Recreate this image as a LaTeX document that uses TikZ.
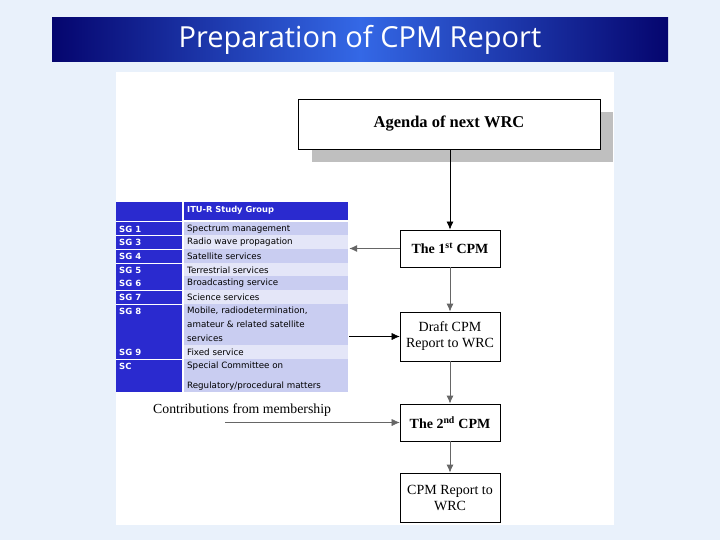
\documentclass[tikz,border=0pt]{standalone}
\usepackage{fontspec}
\setmainfont{Liberation Serif}
\newfontfamily\tabfont{DejaVu Sans}
\newfontfamily\titlefont{Open Sans}
\usetikzlibrary{arrows.meta}
\definecolor{pagebg}{HTML}{E9F1FB}
\definecolor{barblue}{HTML}{2A2ACF}
\definecolor{rowdark}{HTML}{C9CDF1}
\definecolor{rowlight}{HTML}{E4E6F8}
\definecolor{titleedge}{HTML}{05056E}
\definecolor{titlemid}{HTML}{3468E6}
\begin{document}
\begin{tikzpicture}[x=1pt,y=-1pt,
  stepbox/.style={draw,thick,fill=white,minimum width=100pt,align=center,inner sep=1pt},
  flow/.style={draw=black!60,thick,-{Latex[length=8pt,width=7pt]}},
  sgtext/.style={font=\tabfont\fontsize{8.7}{10}\selectfont,anchor=west,inner sep=0pt},
  sglabel/.style={font=\tabfont\bfseries\fontsize{8.5}{10}\selectfont,text=white,anchor=west,inner sep=0pt}]
% page and title bar
\fill[pagebg] (0,0) rectangle (720,540);
\shade[left color=titleedge,right color=titleedge,middle color=titlemid] (52,18) rectangle (668,62);
\node[text=white,font=\titlefont\fontsize{29}{32}\selectfont] (title) at (360,40) {Preparation of CPM Report};
\fill[white] (116,72) rectangle (614,525);

% study group table
\fill[barblue] (116,202) rectangle (182,392);
\fill[barblue] (184,202) rectangle (348,220);
\node[sglabel,font=\tabfont\bfseries\fontsize{8.3}{10}\selectfont] (head) at (187,210) {ITU-R Study Group};
\foreach \ya/\yb/\c/\sg/\txt [count=\i] in {
  222/235/rowdark/SG 1/Spectrum management,
  235/249/rowlight/SG 3/Radio wave propagation,
  249/263/rowdark/SG 4/Satellite services,
  263/276/rowlight/SG 5/Terrestrial services,
  276/290/rowdark/SG 6/Broadcasting service,
  290/304/rowlight/SG 7/Science services,
  304/345/rowdark/SG 8/{},
  345/359/rowlight/SG 9/Fixed service,
  359/392/rowdark/SC/{}}{
  \fill[\c] (184,\ya) rectangle (348,\yb);
  \node[sglabel] (sg\i) at (119,\ya+7) {\sg};
  \node[sgtext] (txt\i) at (187,\ya+7) {\txt};
}
\node[sgtext] (txt7a) at (187,311) {Mobile, radiodetermination,};
\node[sgtext] (txt7b) at (187,324.5) {amateur \& related satellite};
\node[sgtext] (txt7c) at (187,338) {services};
\node[sgtext] (txt9a) at (187,366) {Special Committee on};
\node[sgtext] (txt9b) at (187,386) {Regulatory/procedural matters};
\draw[white] (116,221) -- (348,221);
\foreach \y in {235,249,263,290,304,359}
  \draw[white,thin] (116,\y) -- (182,\y);

% flow boxes
\fill[black!25] (312,112) rectangle (613,162);
\node[stepbox,minimum width=302pt,minimum height=50pt,font=\bfseries\fontsize{16.5}{18}\selectfont] (agenda) at (449,124) {Agenda of next WRC};
\node[stepbox,minimum height=37pt,font=\bfseries\fontsize{14}{16}\selectfont] (cpm1) at (450,248.5) {The 1\textsuperscript{st} CPM};
\node[stepbox,minimum height=49pt,font=\fontsize{14}{16}\selectfont] (draft) at (450,336.5) {Draft CPM\\Report to WRC};
\node[stepbox,minimum height=37pt,font=\bfseries\fontsize{14}{16}\selectfont] (cpm2) at (450,422.5) {The 2\textsuperscript{nd} CPM};
\node[stepbox,minimum height=49pt,font=\fontsize{14}{16}\selectfont] (report) at (450,497.5) {CPM Report to\\WRC};
\node[font=\fontsize{13.8}{15}\selectfont,anchor=west,inner sep=0pt] (contrib) at (153,410) {Contributions from membership};

% connectors
\coordinate (tabin) at (349,248.5);
\coordinate (tabout) at (349,336.5);
\coordinate (memb) at (225,422.5);
\draw[flow,draw=black] (agenda.south -| cpm1.north) -- (cpm1.north);
\draw[flow] (cpm1.south) -- (draft.north);
\draw[flow] (draft.south) -- (cpm2.north);
\draw[flow] (cpm2.south) -- (report.north);
\draw[flow,line width=1.4pt] (cpm1.west) -- (tabin);
\draw[flow,draw=black,thin] (tabout) -- (draft.west);
\draw[flow,thin] (memb) -- (cpm2.west);
\end{tikzpicture}
\end{document}
